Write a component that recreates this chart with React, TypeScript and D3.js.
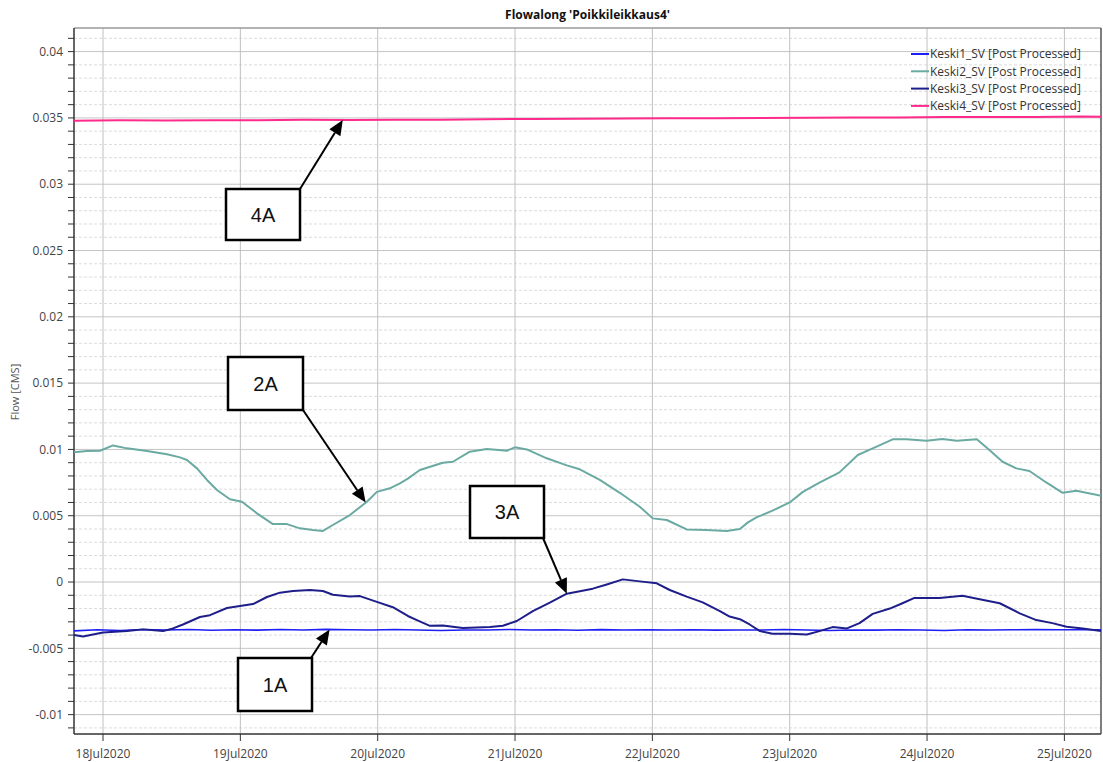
import React from "react";
import * as d3 from "d3";

// ---- Data (hours since 18 Jul 2020 00:00, flow in CMS) ----
const keski1: [number, number][] = [
  [-5.07, -0.00368], [-1, -0.0036], [3, -0.00365], [7, -0.00358], [11, -0.00362], [15, -0.00358],
  [19, -0.00364], [23, -0.0036], [27, -0.00363], [31, -0.00358], [35, -0.00362], [39, -0.00357],
  [43, -0.0036], [47, -0.00362], [51, -0.00358], [55, -0.00362], [59, -0.00366], [63, -0.00362],
  [67, -0.00362], [71, -0.00358], [75, -0.00362], [79, -0.0036], [83, -0.00364], [87, -0.00359],
  [91, -0.00362], [95, -0.0036], [99, -0.00362], [103, -0.0036], [107, -0.00363], [111, -0.00362],
  [115, -0.00362], [119, -0.00358], [123, -0.00362], [127, -0.00365], [131, -0.00362], [135, -0.00363],
  [139, -0.0036], [143, -0.00362], [147, -0.00366], [151, -0.0036], [155, -0.00362], [159, -0.0036],
  [163, -0.00358], [167, -0.0036], [171, -0.0036], [174.5, -0.0036],
];

const keski2: [number, number][] = [
  [-5.07, 0.00978], [-2.79, 0.00988], [-0.52, 0.0099], [1.75, 0.0103], [4.19, 0.01008], [7.69, 0.00988],
  [11.18, 0.00963], [13.45, 0.0094], [14.67, 0.0092], [16.42, 0.00857], [18.17, 0.0077], [19.91, 0.00694],
  [22.18, 0.00624], [24.28, 0.00606], [26.9, 0.00518], [29.69, 0.00437], [32.14, 0.00437], [34.41, 0.00405],
  [36.68, 0.00392], [38.43, 0.00385], [40.17, 0.0043], [43.14, 0.00505], [46.11, 0.00606], [47.86, 0.0068],
  [50.13, 0.00707], [51.88, 0.00744], [53.27, 0.0078], [55.37, 0.00845], [59.39, 0.009], [61.14, 0.00907],
  [64.1, 0.00983], [67.07, 0.01003], [70.57, 0.0099], [71.97, 0.01016], [74.06, 0.01], [77.55, 0.00933],
  [81.05, 0.0088], [83.32, 0.0085], [86.81, 0.0077], [90.31, 0.00673], [93.8, 0.00568], [96.07, 0.0048],
  [98.52, 0.00468], [102.0, 0.00397], [105.5, 0.00392], [109.0, 0.00385], [111.3, 0.004], [112.7, 0.0045],
  [114.2, 0.00488], [117.0, 0.00538], [120.0, 0.006], [122.3, 0.0068], [125.2, 0.00749], [128.7, 0.00827],
  [131.9, 0.00958], [134.5, 0.01008], [138.0, 0.01076], [140.4, 0.01076], [143.9, 0.01066], [146.7, 0.01078],
  [149.2, 0.01066], [152.7, 0.01076], [154.9, 0.00995], [157.2, 0.00907], [159.6, 0.00857], [161.9, 0.00837],
  [164.9, 0.00749], [167.7, 0.00673], [170.1, 0.00689], [174.5, 0.0065],
];

const keski3: [number, number][] = [
  [-5.07, -0.004], [-3.49, -0.0041], [0, -0.0038], [4.19, -0.0037], [6.99, -0.00357], [10.48, -0.0037],
  [12.23, -0.0035], [13.97, -0.0032], [16.94, -0.00264], [18.69, -0.0025], [21.66, -0.00196], [23.93, -0.0018],
  [26.2, -0.00166], [28.65, -0.00113], [30.92, -0.0008], [33.19, -0.00068], [36.16, -0.0006], [38.43, -0.00068],
  [40.17, -0.00096], [43.14, -0.0011], [44.89, -0.00106], [47.86, -0.0015], [50.65, -0.0019], [53.27, -0.00256],
  [54.85, -0.00287], [57.12, -0.0033], [59.39, -0.00327], [62.88, -0.00347], [67.6, -0.0034], [69.87, -0.0033],
  [72.31, -0.00294], [75.11, -0.00219], [78.08, -0.00156], [81.05, -0.00088], [85.59, -0.0005], [88.03, -0.00018],
  [90.83, 0.0002], [93.8, 0.00005], [96.77, -0.0001], [99.04, -0.0006], [102.0, -0.0011], [104.8, -0.00153],
  [107.8, -0.00219], [109.5, -0.0026], [111.3, -0.0028], [113.0, -0.0032], [114.8, -0.0037], [117.0, -0.0039],
  [120.0, -0.0039], [123.0, -0.00395], [125.2, -0.0037], [127.5, -0.0034], [130.0, -0.0035], [132.2, -0.0031],
  [134.5, -0.0024], [137.5, -0.002], [139.7, -0.0016], [141.8, -0.0012], [146.2, -0.0012], [150.2, -0.00103],
  [153.2, -0.0013], [156.7, -0.0016], [160.2, -0.00236], [163.1, -0.00287], [165.9, -0.0031], [168.4, -0.00337],
  [171.2, -0.0035], [174.5, -0.0037],
];

const keski4: [number, number][] = [
  [-5.07, 0.03478], [3, 0.03482], [11, 0.0348], [19, 0.03483], [27, 0.03482], [35, 0.03486], [43, 0.03484],
  [51, 0.03487], [59, 0.03486], [67, 0.0349], [75, 0.03492], [83, 0.03494], [91, 0.03495], [99, 0.03497],
  [107, 0.03498], [115, 0.035], [123, 0.03502], [131, 0.03504], [139, 0.03503], [147, 0.03506], [155, 0.03507],
  [163, 0.03506], [171, 0.0351], [174.5, 0.03508],
];

const seriesNames = [
  "Keski1_SV [Post Processed]",
  "Keski2_SV [Post Processed]",
  "Keski3_SV [Post Processed]",
  "Keski4_SV [Post Processed]",
];
const seriesColors = ["#1e1ef5", "#6aaaa2", "#1e1e8a", "#ff2b8c"];
const seriesWidths = [1.6, 2, 2, 2];
const seriesData = [keski1, keski2, keski3, keski4];

const yMajorTicks = [-0.01, -0.005, 0, 0.005, 0.01, 0.015, 0.02, 0.025, 0.03, 0.035, 0.04];
const xDomainHours: [number, number] = [-5.07, 174.4];
const yDomain: [number, number] = [-0.01146, 0.04178];

// annotations: label, series index, hour pointed at
const annoLabels = ["4A", "2A", "3A", "1A"];
const annoSeries = [3, 1, 2, 0];
const annoHours = [41.9, 45.9, 81.05, 39.6];

const baseDate = Date.UTC(2020, 6, 18);
const toDate = (h: number) => new Date(baseDate + h * 3600 * 1000);

const W = 1103, H = 762;
const L = 74, R = 1101, T = 28, B = 734;

// box layout (pixels) for annotations
const annoBoxes = [
  { x: 226, y: 189, w: 74, h: 51, cx: 300, cy: 189 },
  { x: 228, y: 357, w: 75, h: 53, cx: 303, cy: 410 },
  { x: 470, y: 486, w: 74, h: 52, cx: 543, cy: 538 },
  { x: 238, y: 658, w: 74, h: 53, cx: 311, cy: 658 },
];

function interp(data: [number, number][], h: number) {
  for (let i = 0; i < data.length - 1; i++) {
    const [t0, v0] = data[i];
    const [t1, v1] = data[i + 1];
    if (h >= t0 && h <= t1) return v0 + ((h - t0) / (t1 - t0)) * (v1 - v0);
  }
  return data[data.length - 1][1];
}

export default function App() {
  const x = d3.scaleUtc().domain([toDate(xDomainHours[0]), toDate(xDomainHours[1])]).range([L, R]);
  const y = d3.scaleLinear().domain(yDomain).range([B, T]);
  const dayTicks = d3.utcDay.range(toDate(0), toDate(xDomainHours[1]));
  const fmt = d3.utcFormat("%d%b%Y");
  const minorTicks = d3.range(-11, 42).map((k) => k / 1000).filter((v) => !yMajorTicks.some((m) => Math.abs(m - v) < 1e-9));
  const line = d3
    .line<[number, number]>()
    .x((d) => x(toDate(d[0])))
    .y((d) => y(d[1]));
  const yLabel = (v: number) => String(+v.toFixed(3));
  const font = "'Open Sans', 'DejaVu Sans', sans-serif";

  return (
    <svg width={W} height={H} style={{ position: "absolute", left: 0, top: 0, background: "#fff" }} fontFamily={font}>
      <rect x={0} y={0} width={W} height={H} fill="#fff" />
      <text x={(L + R) / 2} y={19} textAnchor="middle" fontSize={12} fontWeight="bold" fill="#111">
        Flowalong 'Poikkileikkaus4'
      </text>
      {/* minor grid */}
      {minorTicks.map((v) => (
        <line key={"mg" + v} x1={L} x2={R} y1={y(v)} y2={y(v)} stroke="#dcdcdc" strokeWidth={1} strokeDasharray="3,2" />
      ))}
      {/* major grid */}
      {yMajorTicks.map((v) => (
        <line key={"Mg" + v} x1={L} x2={R} y1={y(v)} y2={y(v)} stroke="#c4c4c4" strokeWidth={1} />
      ))}
      {dayTicks.map((d) => (
        <line key={"vg" + d.getTime()} x1={x(d)} x2={x(d)} y1={T} y2={B} stroke="#c0c0c0" strokeWidth={1} />
      ))}
      {/* frame */}
      <line x1={L} x2={R} y1={T} y2={T} stroke="#9a9a9a" strokeWidth={1.5} />
      <line x1={R} x2={R} y1={T} y2={B} stroke="#555" strokeWidth={1.5} />
      <line x1={L} x2={L} y1={T} y2={B} stroke="#333" strokeWidth={1.5} />
      <line x1={L} x2={R} y1={B} y2={B} stroke="#333" strokeWidth={1.5} />
      {/* y ticks */}
      {[...minorTicks, ...yMajorTicks].map((v) => (
        <line key={"yt" + v} x1={L - 6} x2={L} y1={y(v)} y2={y(v)} stroke="#333" strokeWidth={1} />
      ))}
      {yMajorTicks.map((v) => (
        <text key={"yl" + v} x={L - 11} y={y(v)} dy="0.35em" textAnchor="end" fontSize={12} fill="#444">
          {yLabel(v)}
        </text>
      ))}
      {/* x ticks */}
      {dayTicks.map((d) => (
        <g key={"xt" + d.getTime()}>
          <line x1={x(d)} x2={x(d)} y1={B} y2={B + 7} stroke="#333" strokeWidth={1} />
          <text x={x(d)} y={758} textAnchor="middle" fontSize={12} fill="#444">
            {fmt(d)}
          </text>
        </g>
      ))}
      <text transform={`translate(19,${392}) rotate(-90)`} textAnchor="middle" fontSize={11} fill="#555">
        Flow [CMS]
      </text>
      {/* lines */}
      <g clipPath="url(#clip)">
        <clipPath id="clip">
          <rect x={L} y={T} width={R - L} height={B - T} />
        </clipPath>
        {seriesData.map((s, i) => (
          <path key={"s" + i} d={line(s) || ""} fill="none" stroke={seriesColors[i]} strokeWidth={seriesWidths[i]} strokeLinejoin="round" />
        ))}
      </g>
      {/* legend */}
      {seriesNames.map((n, i) => (
        <g key={"lg" + i}>
          <line x1={911} x2={929} y1={54 + i * 17.3} y2={54 + i * 17.3} stroke={seriesColors[i]} strokeWidth={2} />
          <text x={930} y={54 + i * 17.3} dy="0.35em" fontSize={12} fill="#333">
            {n}
          </text>
        </g>
      ))}
      {/* annotations */}
      {annoLabels.map((lab, i) => {
        const b = annoBoxes[i];
        const tx = x(toDate(annoHours[i]));
        const ty = y(interp(seriesData[annoSeries[i]], annoHours[i]));
        const ang = Math.atan2(ty - b.cy, tx - b.cx);
        const hl = 15, hw = 6.5;
        const bx = tx - hl * Math.cos(ang), by = ty - hl * Math.sin(ang);
        const px = -Math.sin(ang), py = Math.cos(ang);
        return (
          <g key={"an" + i}>
            <line x1={b.cx} y1={b.cy} x2={bx} y2={by} stroke="#000" strokeWidth={2} />
            <polygon
              points={`${tx},${ty} ${bx + px * hw},${by + py * hw} ${bx - px * hw},${by - py * hw}`}
              fill="#000"
            />
            <rect x={b.x} y={b.y} width={b.w} height={b.h} fill="#fff" stroke="#000" strokeWidth={2.5} />
            <text
              x={b.x + b.w / 2}
              y={b.y + b.h / 2}
              dy="0.36em"
              textAnchor="middle"
              fontSize={20}
              fontFamily="'Liberation Sans', Arial, sans-serif"
              fill="#111"
            >
              {lab}
            </text>
          </g>
        );
      })}
    </svg>
  );
}
